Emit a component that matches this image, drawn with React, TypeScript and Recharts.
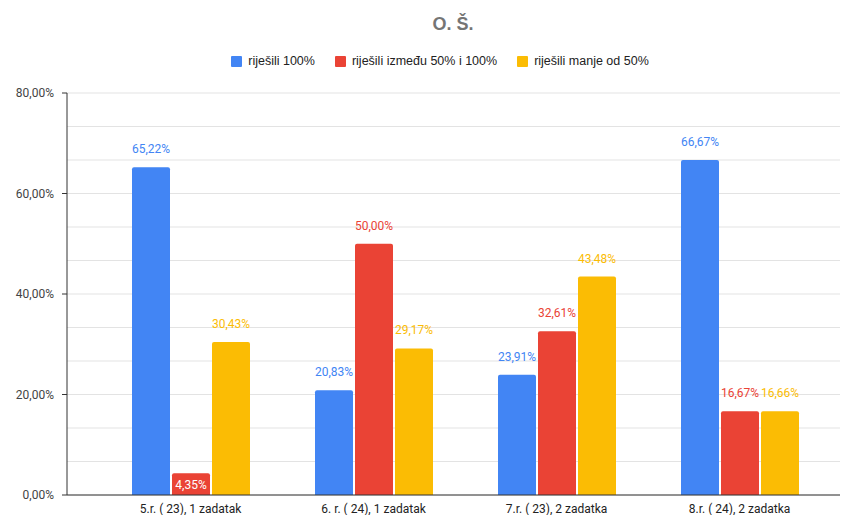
import React from "react";
import { BarChart, Bar, XAxis, YAxis, CartesianGrid, Legend, LabelList } from "recharts";

const categories = ["5.r. ( 23), 1 zadatak", "6. r. ( 24), 1 zadatak", "7.r. ( 23), 2 zadatka", "8.r. ( 24), 2 zadatka"];
const solved100 = [65.22, 20.83, 23.91, 66.67];
const solved50to100 = [4.35, 50.0, 32.61, 16.67];
const solvedUnder50 = [30.43, 29.17, 43.48, 16.66];
const majorTicks = [0, 20, 40, 60, 80];
const gridTicks = [0, 20 / 3, 40 / 3, 20, 80 / 3, 100 / 3, 40, 140 / 3, 160 / 3, 60, 200 / 3, 220 / 3, 80];

const seriesNames = ["riješili 100%", "riješili između 50% i 100%", "riješili manje od 50%"];
const colors = ["#4285F4", "#EA4335", "#FBBC04"];

const data = categories.map((c, i) => ({
  name: c,
  a: solved100[i],
  b: solved50to100[i],
  c: solvedUnder50[i],
}));

const fmt = (v: number) => v.toFixed(2).replace(".", ",") + "%";

const makeLabel = (color: string) => (props: any) => {
  const { x, y, width, height, value } = props;
  const cx = Number(x) + Number(width) / 2;
  if (Number(height) < 30) {
    return (
      <text x={cx} y={Number(y) + Number(height) - 6} textAnchor="middle" fill="#ffffff" fontSize={12} fontFamily="Roboto">
        {fmt(value)}
      </text>
    );
  }
  return (
    <text x={cx} y={Number(y) - 14} textAnchor="middle" fill={color} fontSize={12} fontFamily="Roboto">
      {fmt(value)}
    </text>
  );
};

const YTick = (props: any) => {
  const { x, y, payload } = props;
  const v = Number(payload.value);
  const isMajor = majorTicks.some((m) => Math.abs(m - v) < 1e-6);
  if (!isMajor) return <g />;
  return (
    <g>
      <line x1={x + 8} x2={x + 13} y1={y} y2={y} stroke="#333" strokeWidth={1} />
      <text x={x} y={y} dy={4} textAnchor="end" fill="#444" fontSize={12} fontFamily="Roboto">
        {fmt(v)}
      </text>
    </g>
  );
};

const renderLegend = () => (
  <div style={{ display: "flex", justifyContent: "center", alignItems: "center", fontFamily: "'Liberation Sans', Arial", fontSize: 12.5, color: "#222", paddingLeft: 40 }}>
    {seriesNames.map((n, i) => (
      <div key={n} style={{ display: "flex", alignItems: "center", marginRight: i < 2 ? 20 : 0 }}>
        <span style={{ width: 11, height: 11, background: colors[i], display: "inline-block", marginRight: 6, borderRadius: 1 }} />
        <span>{n}</span>
      </div>
    ))}
  </div>
);

export default function App() {
  return (
    <div style={{ position: "absolute", left: 0, top: 0, width: 852, height: 515, background: "#fff" }}>
      <div style={{ position: "absolute", top: 15, left: 27, width: 852, textAlign: "center", fontFamily: "'Liberation Sans', Arial", fontWeight: 700, fontSize: 18, lineHeight: 1, color: "#757575" }}>
        O. Š.
      </div>
      <BarChart
        width={852}
        height={515}
        data={data}
        margin={{ top: 40, right: 12, left: 0, bottom: 0 }}
        barGap={2}
        barSize={38}
      >
        <CartesianGrid vertical={false} stroke="#e3e3e3" />
        <Legend verticalAlign="top" height={53} content={renderLegend} wrapperStyle={{ top: 54 }} />
        <XAxis
          dataKey="name"
          padding={{ left: 32, right: 9 }}
          tickLine={false}
          axisLine={{ stroke: "#333" }}
          tick={{ fontSize: 12, fill: "#222", fontFamily: "Roboto" }}
          height={20}
          tickMargin={3}
          interval={0}
        />
        <YAxis
          width={67}
          domain={[0, 80]}
          ticks={gridTicks}
          interval={0}
          axisLine={{ stroke: "#333" }}
          tickLine={false}
          tickSize={5}
          tickMargin={8}
          tick={<YTick />}
        />
        <Bar dataKey="a" name={seriesNames[0]} fill={colors[0]} radius={[2, 2, 0, 0]} isAnimationActive={false}>
          <LabelList dataKey="a" content={makeLabel(colors[0])} />
        </Bar>
        <Bar dataKey="b" name={seriesNames[1]} fill={colors[1]} radius={[2, 2, 0, 0]} isAnimationActive={false}>
          <LabelList dataKey="b" content={makeLabel(colors[1])} />
        </Bar>
        <Bar dataKey="c" name={seriesNames[2]} fill={colors[2]} radius={[2, 2, 0, 0]} isAnimationActive={false}>
          <LabelList dataKey="c" content={makeLabel(colors[2])} />
        </Bar>
      </BarChart>
    </div>
  );
}
